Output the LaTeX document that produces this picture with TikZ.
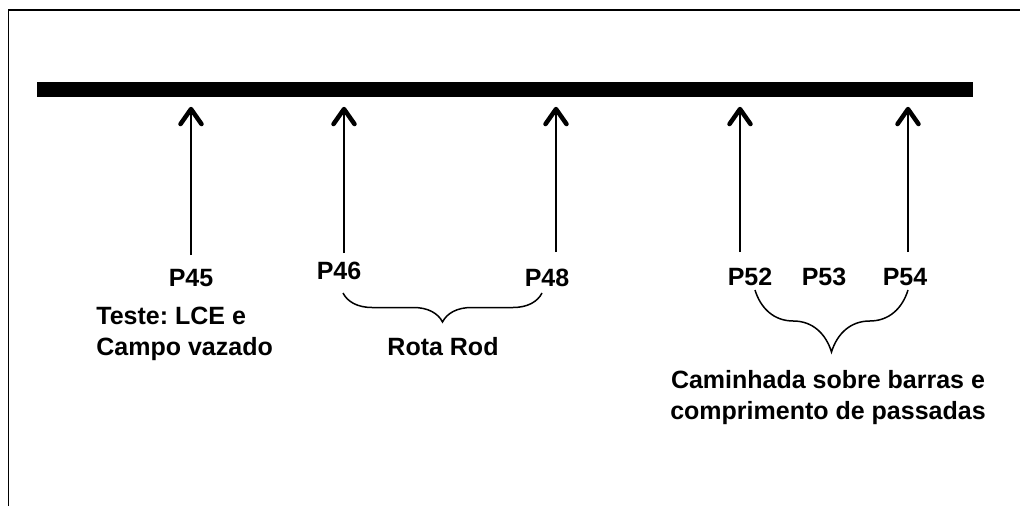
\documentclass[tikz,border=0pt]{standalone}
\usepackage{fontspec}
\setmainfont{Liberation Sans}
\frenchspacing
\usetikzlibrary{arrows.meta, decorations.pathreplacing, positioning}

\begin{document}
\begin{tikzpicture}[x=1pt, y=-1pt, thick]
        % Define block styles
        \tikzstyle{ptext} = [font=\fontsize{25}{31}\selectfont\bfseries, inner sep=0pt, align=center]
        \tikzstyle{line} = [draw, line width=2.4pt, shorten >=9pt, -{Straight Barb[length=15pt, width=21pt, line width=4.5pt, round]}]
        \tikzstyle{curly} = [draw, line width=1.5pt, decorate, decoration={brace, mirror, amplitude=#1}]

        % Canvas and frame
        \useasboundingbox (0,0) rectangle (1020,506);
        \draw[line width=1.5pt] (8.5,506) -- (8.5,10) -- (1020,10);

        % Define nodes
        \node [fill=black, inner sep=0pt, minimum width=936pt, minimum height=15pt, anchor=north west] (bar) at (37,82) {};
        \node [ptext] (P45) at (191,278) {P45};
        \node [ptext] (P46) at (339,271) {P46};
        \node [ptext] (P48) at (547,278) {P48};
        \node [ptext] (P52) at (750,277) {P52};
        \node [ptext] (P53) at (824,277) {P53};
        \node [ptext] (P54) at (905,277) {P54};
        \node [ptext, align=left, anchor=west] (teste) at (96,334) {Teste: LCE e\\Campo vazado};
        \node [ptext] (rota) at (443,347) {Rota Rod};
        \node [ptext] (caminhada) at (828,398) {Caminhada sobre barras e\\comprimento de passadas};

        % Arrow feet
        \coordinate (a45) at (191,255);
        \coordinate (a46) at (344,253);
        \coordinate (a48) at (556,252);
        \coordinate (a52) at (740,252);
        \coordinate (a54) at (908,252);

        % Connect nodes with paths
        \draw[line] (a45) -- (a45 |- bar.south);
        \draw[line] (a46) -- (a46 |- bar.south);
        \draw[line] (a48) -- (a48 |- bar.south);
        \draw[line] (a52) -- (a52 |- bar.south);
        \draw[line] (a54) -- (a54 |- bar.south);

        % Braces
        \coordinate (r1) at (343,293);
        \coordinate (r2) at (542,293);
        \coordinate (c1) at (755,290);
        \coordinate (c2) at (908,290);
        \draw[curly=29pt] (r1) -- (r2);
        \draw[curly=62pt] (c1) -- (c2);

    \end{tikzpicture}
\end{document}
